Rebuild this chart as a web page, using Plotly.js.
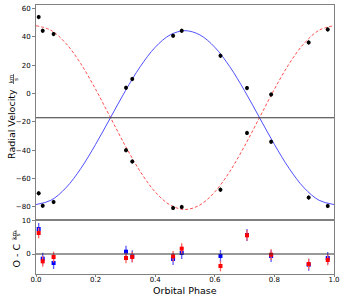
<!DOCTYPE html>
<html>
<head>
<meta charset="utf-8">
<script src="https://cdn.plot.ly/plotly-3.0.1.min.js"></script>
<style>html,body{margin:0;padding:0;background:#fff;}#chart{width:343px;height:298px;}</style>
</head>
<body>
<div id="chart"></div>
<script>
// Observed phases
const phase = [0.009, 0.0225, 0.059, 0.302, 0.323, 0.460, 0.489, 0.619, 0.708, 0.789, 0.915, 0.979];
// Observed radial velocities (km/s)
const rvBlue = [-70.4, -79.1, -76.5, 4.0, 10.2, 40.7, 44.2, 26.6, 3.8, -34.1, -73.4, -79.3];
const rvRed  = [53.9, 44.2, 41.9, -40.0, -48.0, -80.7, -80.0, -67.8, -27.8, -0.7, 36.0, 45.2];
const rvErr  = [1.5, 1.5, 1.5, 1.5, 1.5, 1.5, 1.5, 1.5, 1.5, 1.5, 1.5, 1.5];
// Residuals O - C (km/s)
const resBlue = [7.5, -1.4, -2.7, 0.7, -0.7, -1.5, 0.3, -0.6, 5.7, -0.6, -3.2, -1.2];
const resRed  = [6.3, -2.2, -0.9, -1.2, -0.9, -0.7, 1.6, -3.6, 5.6, -0.2, -3.0, -1.8];
const errBlue = [1.8, 1.8, 1.8, 1.8, 1.8, 1.8, 1.8, 1.8, 1.8, 1.8, 1.8, 1.8];
const errRed  = [1.6, 1.6, 1.6, 1.6, 1.6, 1.6, 1.6, 1.6, 1.6, 1.6, 1.6, 1.6];
// Model curves
const modelPhase = [0, 0.05, 0.1, 0.15, 0.2, 0.25, 0.3, 0.35, 0.4, 0.45, 0.5, 0.55, 0.6, 0.65, 0.7, 0.75, 0.8, 0.85, 0.9, 0.95, 1.0];
const modelBlue = [-78.3, -75.3, -66.6, -53.0, -35.9, -17.0, 1.9, 19.0, 32.6, 41.3, 44.3, 41.3, 32.6, 19.0, 1.9, -17.0, -35.9, -53.0, -66.6, -75.3, -78.3];
const modelRed  = [47.8, 44.6, 35.4, 21.1, 3.0, -17.0, -37.0, -55.1, -69.4, -78.6, -81.8, -78.6, -69.4, -55.1, -37.0, -17.0, 3.0, 21.1, 35.4, 44.6, 47.8];
const gamma = -17.1;
const xTicks = [0, 0.2, 0.4, 0.6, 0.8, 1.0];
const xTickText = ['0.0', '0.2', '0.4', '0.6', '0.8', '1.0'];
const rvTicks = [-80, -60, -40, -20, 0, 20, 40, 60];
const resTicks = [0, 10];

const W = 343, H = 298, ML = 36, MR = 9, MT = 5, MB = 24;
const PW = W - ML - MR, PH = H - MT - MB;
const px = v => (v - ML) / PW;          // pixel -> paper x
const py = v => (H - MB - v) / PH;      // pixel -> paper y

const tickFont = {family: 'DejaVu Sans', size: 7, color: '#000'};
const titleFont = {family: 'DejaVu Sans', size: 9.5, color: '#000'};
const fracFont = {family: 'DejaVu Sans', size: 5.5, color: '#000'};
const frame = '#808080';

const traces = [
  {x: modelPhase, y: modelRed, mode: 'lines', line: {color: '#ff3b3b', width: 0.9, dash: '3px,2px', shape: 'spline'}, xaxis: 'x', yaxis: 'y'},
  {x: modelPhase, y: modelBlue, mode: 'lines', line: {color: '#3b3bff', width: 0.9, shape: 'spline'}, xaxis: 'x', yaxis: 'y'},
  {x: phase, y: rvBlue, mode: 'markers', marker: {color: '#000', size: 4}, error_y: {type: 'data', array: rvErr, color: '#000', thickness: 1, width: 0}, xaxis: 'x', yaxis: 'y'},
  {x: phase, y: rvRed, mode: 'markers', marker: {color: '#000', size: 4}, error_y: {type: 'data', array: rvErr, color: '#000', thickness: 1, width: 0}, xaxis: 'x', yaxis: 'y'},
  {x: phase, y: resBlue, mode: 'markers', marker: {color: '#0000ff', size: 4, symbol: 'square'}, error_y: {type: 'data', array: errBlue, color: '#5a5aff', thickness: 1.3, width: 0}, xaxis: 'x2', yaxis: 'y2'},
  {x: phase, y: resRed, mode: 'markers', marker: {color: '#ff0000', size: 4, symbol: 'square'}, error_y: {type: 'data', array: errRed, color: '#ff6060', thickness: 1.3, width: 0}, xaxis: 'x2', yaxis: 'y2'}
];

const split = 54 / PH;
const axCommon = {showgrid: false, zeroline: false, showline: true, mirror: true, linecolor: frame, linewidth: 1, tickcolor: frame, ticklen: 3, tickfont: tickFont};
const layout = {
  width: W, height: H,
  margin: {l: ML, r: MR, t: MT, b: MB, pad: 0},
  paper_bgcolor: '#fff', plot_bgcolor: '#fff',
  showlegend: false,
  font: tickFont,
  xaxis: Object.assign({}, axCommon, {domain: [0, 1], anchor: 'y', range: [0, 1], showticklabels: false, ticks: ''}),
  yaxis: Object.assign({}, axCommon, {domain: [split, 1], anchor: 'x', range: [-89.2, 62.4], tickvals: rvTicks, ticks: 'outside'}),
  xaxis2: Object.assign({}, axCommon, {domain: [0, 1], anchor: 'y2', range: [0, 1], tickvals: xTicks, ticktext: xTickText, ticks: 'outside', ticklen: 2, ticklabelstandoff: -3}),
  yaxis2: Object.assign({}, axCommon, {domain: [0, split], anchor: 'x2', range: [-6.0, 10.2], tickvals: resTicks, ticks: 'outside'}),
  shapes: [
    {type: 'line', xref: 'x domain', yref: 'y', x0: 0, x1: 1, y0: gamma, y1: gamma, line: {color: '#333', width: 1}},
    {type: 'line', xref: 'x2 domain', yref: 'y2', x0: 0, x1: 1, y0: 0, y1: 0, line: {color: '#333', width: 1}},
    // fraction bars of the axis-title units
    {type: 'line', xref: 'paper', yref: 'paper', x0: px(13.5), x1: px(13.5), y0: py(74), y1: py(84), line: {color: '#000', width: 0.6}},
    {type: 'line', xref: 'paper', yref: 'paper', x0: px(16), x1: px(16), y0: py(230), y1: py(240), line: {color: '#000', width: 0.6}}
  ],
  annotations: [
    {xref: 'paper', yref: 'paper', x: px(11), y: py(124), text: 'Radial Velocity', textangle: -90, showarrow: false, font: titleFont, xanchor: 'center', yanchor: 'middle'},
    {xref: 'paper', yref: 'paper', x: px(11.2), y: py(79), text: 'km', textangle: -90, showarrow: false, font: fracFont, xanchor: 'center', yanchor: 'middle'},
    {xref: 'paper', yref: 'paper', x: px(15.8), y: py(79), text: 's', textangle: -90, showarrow: false, font: fracFont, xanchor: 'center', yanchor: 'middle'},
    {xref: 'paper', yref: 'paper', x: px(15.5), y: py(256), text: 'O - C', textangle: -90, showarrow: false, font: titleFont, xanchor: 'center', yanchor: 'middle'},
    {xref: 'paper', yref: 'paper', x: px(13.7), y: py(235), text: 'km', textangle: -90, showarrow: false, font: fracFont, xanchor: 'center', yanchor: 'middle'},
    {xref: 'paper', yref: 'paper', x: px(18.3), y: py(235), text: 's', textangle: -90, showarrow: false, font: fracFont, xanchor: 'center', yanchor: 'middle'},
    {xref: 'paper', yref: 'paper', x: 0.5, y: py(290.5), text: 'Orbital Phase', showarrow: false, font: titleFont, xanchor: 'center', yanchor: 'middle'}
  ]
};

Plotly.newPlot('chart', traces, layout, {displayModeBar: false, staticPlot: true});
</script>
</body>
</html>
